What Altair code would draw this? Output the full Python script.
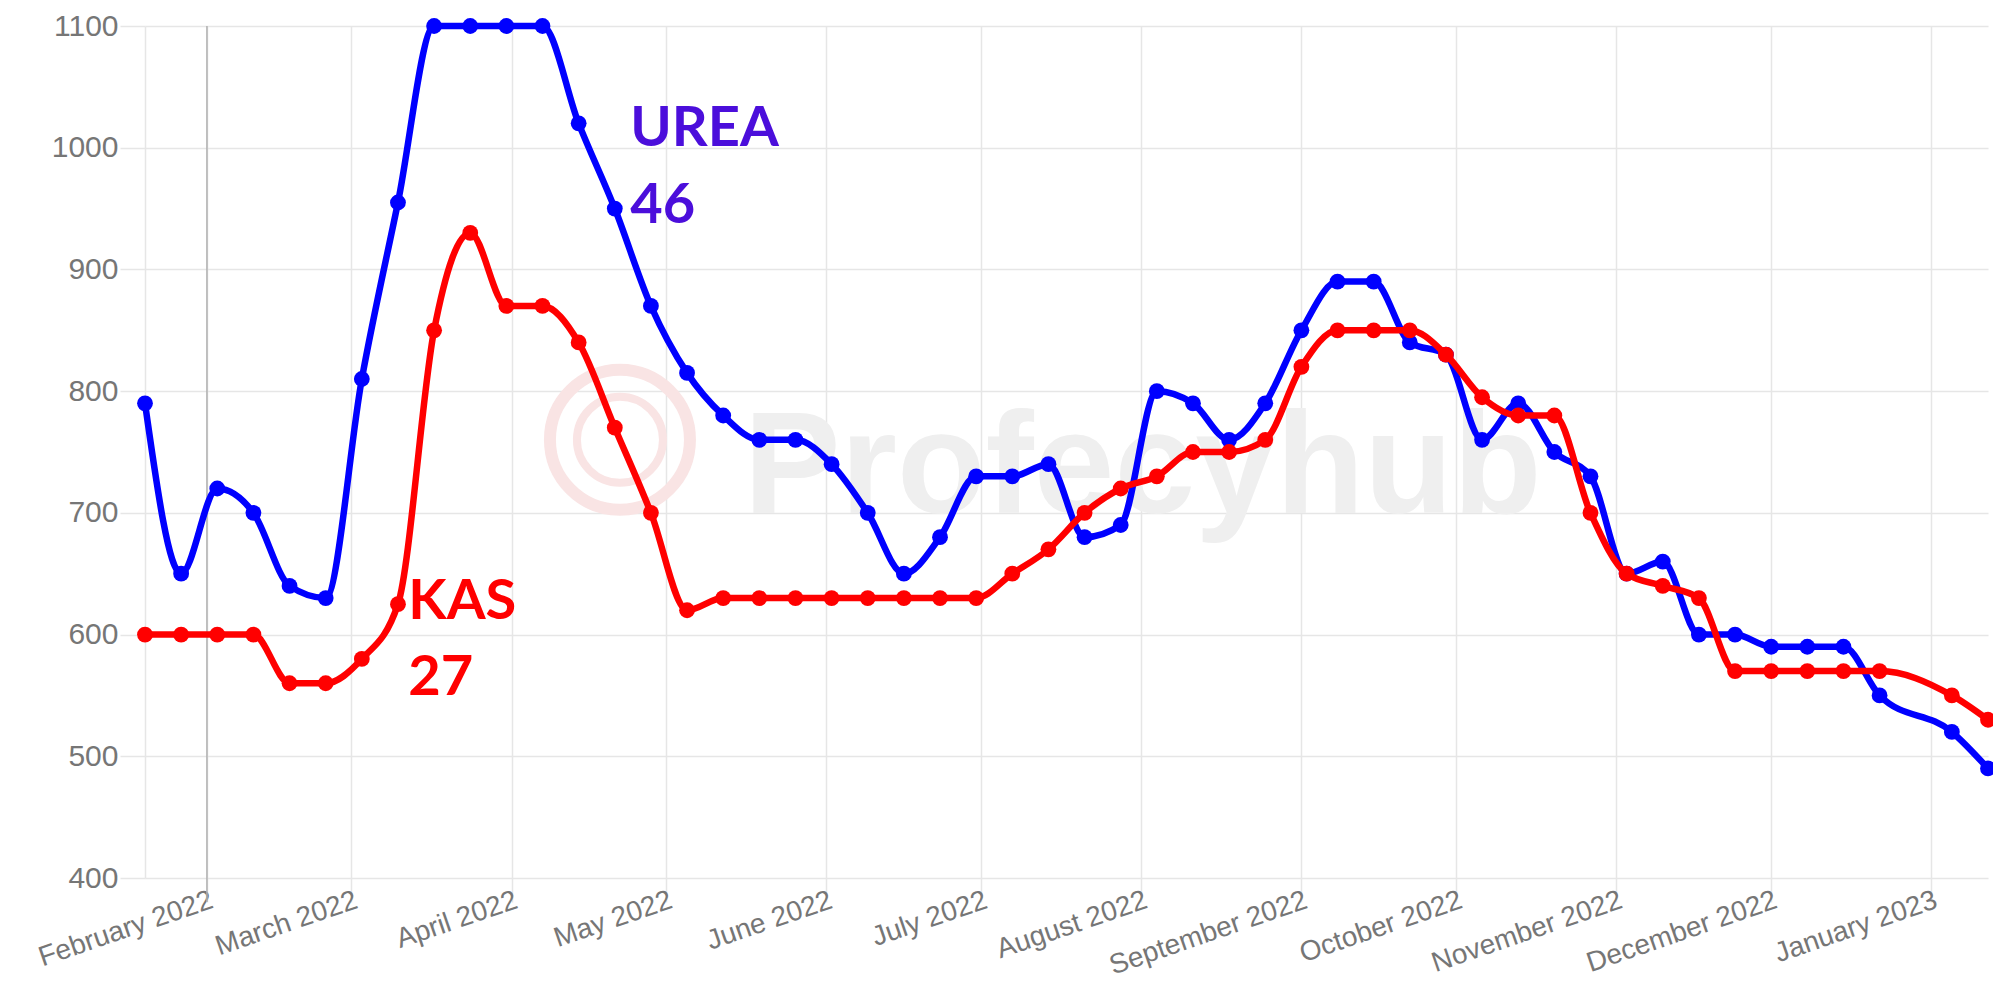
import altair as alt
import pandas as pd

# ---- data (weekly prices) ----
dates = [
    "2022-01-20", "2022-01-27", "2022-02-03", "2022-02-10", "2022-02-17", "2022-02-24",
    "2022-03-03", "2022-03-10", "2022-03-17", "2022-03-24", "2022-03-31",
    "2022-04-07", "2022-04-14", "2022-04-21", "2022-04-28",
    "2022-05-05", "2022-05-12", "2022-05-19", "2022-05-26",
    "2022-06-02", "2022-06-09", "2022-06-16", "2022-06-23", "2022-06-30",
    "2022-07-07", "2022-07-14", "2022-07-21", "2022-07-28",
    "2022-08-04", "2022-08-11", "2022-08-18", "2022-08-25",
    "2022-09-01", "2022-09-08", "2022-09-15", "2022-09-22", "2022-09-29",
    "2022-10-06", "2022-10-13", "2022-10-20", "2022-10-27",
    "2022-11-03", "2022-11-10", "2022-11-17", "2022-11-24",
    "2022-12-01", "2022-12-08", "2022-12-15", "2022-12-22",
    "2023-01-05", "2023-01-12",
]
urea_46 = [
    790, 650, 720, 700, 640, 630,
    810, 955, 1100, 1100, 1100,
    1100, 1020, 950, 870,
    815, 780, 760, 760,
    740, 700, 650, 680, 730,
    730, 740, 680, 690,
    800, 790, 760, 790,
    850, 890, 890, 840, 830,
    760, 790, 750, 730,
    650, 660, 600, 600,
    590, 590, 590, 550,
    520, 490,
]
kas_27 = [
    600, 600, 600, 600, 560, 560,
    580, 625, 850, 930, 870,
    870, 840, 770, 700,
    620, 630, 630, 630,
    630, 630, 630, 630, 630,
    650, 670, 700, 720,
    730, 750, 750, 760,
    820, 850, 850, 850, 830,
    795, 780, 780, 700,
    650, 640, 630, 570,
    570, 570, 570, 570,
    550, 530,
]
series_names = ["UREA 46", "KAS 27"]
series_colors = ["#0000ff", "#ff0000"]

month_ticks = [(2022, m) for m in range(2, 13)] + [(2023, 1)]
y_ticks = [400, 500, 600, 700, 800, 900, 1000, 1100]

# annotation labels
annot_text = ["UREA", "46", "KAS", "27"]
annot_date = ["2022-04-24", "2022-04-24", "2022-03-12", "2022-03-12"]
annot_value = [1001, 938, 613, 550]
annot_color = ["#4b0edb", "#4b0edb", "#ff0000", "#ff0000"]

# watermark
wm_text = ["Profecyhub"]
wm_date = ["2022-05-16"]
wm_value = [700]
logo_date = ["2022-04-22", "2022-04-22"]
logo_value = [760, 760]
logo_size = [19600, 7400]
logo_width = [12, 8]

zero_line_date = ["2022-02-01"]

# ---- tables ----
rows = []
for name, vals in zip(series_names, [urea_46, kas_27]):
    for d, v in zip(dates, vals):
        rows.append({"date": pd.Timestamp(d), "price": v, "series": name})
df = pd.DataFrame(rows)

annot_df = pd.DataFrame({
    "date": pd.to_datetime(annot_date), "price": annot_value,
    "label": annot_text, "color": annot_color,
})
wm_df = pd.DataFrame({"date": pd.to_datetime(wm_date), "price": wm_value, "label": wm_text})
logo_df = pd.DataFrame({"date": pd.to_datetime(logo_date), "price": logo_value,
                        "size": logo_size, "sw": logo_width})
zero_df = pd.DataFrame({"date": pd.to_datetime(zero_line_date)})

W, H = 1843, 852
GRID = "#e6e6e6"
LABEL = "#767676"

x_enc = alt.X(
    "date:T",
    scale=alt.Scale(domain=[alt.DateTime(year=2022, month=1, date=20),
                            alt.DateTime(year=2023, month=1, date=12)]),
    axis=alt.Axis(
        values=[alt.DateTime(year=y, month=m, date=1) for y, m in month_ticks],
        format="%B %Y", title=None,
        labelAngle=-19, labelAlign="right", labelBaseline="top",
        labelFont="Liberation Sans", labelFontSize=28, labelColor=LABEL,
        labelPadding=-16, labelOverlap=False, labelBound=False, labelFlush=False,
        labelLimit=0,
        tickSize=24, tickColor=GRID, tickWidth=1.5,
        grid=True, gridColor=GRID, gridWidth=1.5,
        domain=False,
    ),
)
y_enc = alt.Y(
    "price:Q",
    scale=alt.Scale(domain=[400, 1100], nice=False, zero=False),
    axis=alt.Axis(
        values=y_ticks, title=None, format="d",
        labelFont="Liberation Sans", labelFontSize=30, labelColor=LABEL,
        labelPadding=2, tickSize=25, tickColor=GRID, tickWidth=1.5,
        grid=True, gridColor=GRID, gridWidth=1.5,
        domain=True, domainColor=GRID, domainWidth=1.5,
    ),
)

logo = alt.Chart(logo_df).mark_point(
    shape="circle", filled=False, color="#f9e4e4", opacity=1
).encode(x=x_enc, y=y_enc, size=alt.Size("size:Q", scale=None),
         strokeWidth=alt.StrokeWidth("sw:Q", scale=None))

watermark = alt.Chart(wm_df).mark_text(
    align="left", baseline="alphabetic", font="Liberation Sans",
    fontWeight="bold", fontSize=145, color="#efefef"
).encode(x=x_enc, y=y_enc, text="label:N")

zero_line = alt.Chart(zero_df).mark_rule(color="#b0b0b0", strokeWidth=1.5).encode(
    x=x_enc, y=alt.value(0), y2=alt.value(H + 24)
)

layers = [logo, watermark, zero_line]
for name, col in zip(series_names, series_colors):
    sub = alt.Chart(df).transform_filter(alt.datum.series == name)
    layers.append(sub.mark_line(interpolate="monotone", strokeWidth=6.5, color=col)
                  .encode(x=x_enc, y=y_enc))
    layers.append(sub.mark_point(shape="circle", filled=True, size=250, opacity=1, color=col)
                  .encode(x=x_enc, y=y_enc))

annot = alt.Chart(annot_df).mark_text(
    align="left", baseline="alphabetic", font="Lato", fontWeight="bold", fontSize=56
).encode(x=x_enc, y=y_enc, text="label:N", color=alt.Color("color:N", scale=None))
layers.append(annot)

chart = alt.layer(*layers).properties(
    width=W, height=H,
    autosize=alt.AutoSizeParams(type="none"),
    padding={"left": 137, "top": 18, "right": 5, "bottom": 103},
    background="white",
).configure_view(strokeWidth=0)

chart.save("out.html", embed_options={"renderer": "svg", "actions": False})
